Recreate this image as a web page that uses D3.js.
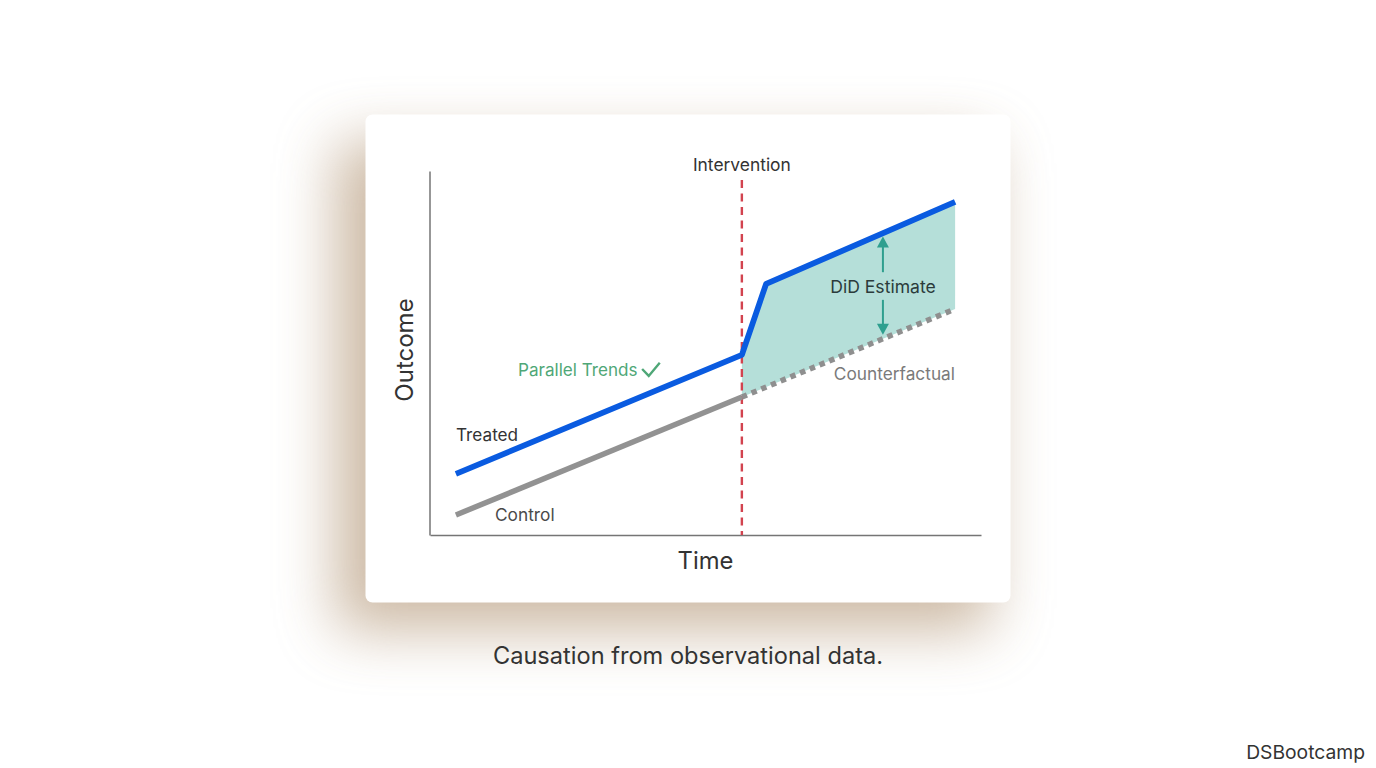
<!DOCTYPE html>
<html><head><meta charset="utf-8">
<script src="https://cdn.jsdelivr.net/npm/d3@7"></script>
<style>html,body{margin:0;padding:0;background:#fff;overflow:hidden}svg{display:block}text{font-family:Inter,Roboto,sans-serif}</style>
</head><body><svg id="c" width="1376" height="768"></svg>
<script>
const timeValues=[4.7,56.6];
const treatedPre=[16.8,49.5];
const treatedPostTimes=[56.6,61,95.3];
const treatedPost=[49.5,69,91.5];
const controlPre=[5.5,37.9];
const counterfactualTimes=[56.6,95.3];
const counterfactual=[37.9,62.1];
const interventionTime=56.6;
const estimateTime=82.2;
const estimateTop=82;
const estimateBottom=55;
const labelGapTop=72.2;const labelGapBottom=64.6;
const checkTimes=[38.5,39.7,41.7];
const checkValues=[45.6,43.7,47.3];

const svg=d3.select('#c');
const x=d3.scaleLinear().domain([0,100]).range([430,981]);
const y=d3.scaleLinear().domain([0,100]).range([535,171]);
const line=d3.line().x(d=>x(d[0])).y(d=>y(d[1]));
const zip=(a,b)=>a.map((v,i)=>[v,b[i]]);
const defs=svg.append('defs');
defs.append('filter').attr('id','blur').attr('x','-30%').attr('y','-30%').attr('width','160%').attr('height','160%')
 .append('feGaussianBlur').attr('stdDeviation',30);
svg.append('rect').attr('x',336).attr('y',142).attr('width',655).attr('height',488).attr('rx',8).attr('fill','#ad8e6c').attr('opacity',.62).attr('filter','url(#blur)');
svg.append('rect').attr('x',365.5).attr('y',114.5).attr('width',645).attr('height',488).attr('rx',7).attr('fill','#fff');
const post=zip(treatedPostTimes,treatedPost);
const cfAt=d3.scaleLinear().domain(counterfactualTimes).range(counterfactual);
svg.append('path').attr('d',d3.area().x(d=>x(d[0])).y1(d=>y(d[1])).y0(d=>y(cfAt(d[0])))(post)).attr('fill','#b5dfd9');
const axX=d3.axisBottom(x).tickValues([]).tickSize(0);
const axY=d3.axisLeft(y).tickValues([]).tickSize(0);
for(const [ax,t] of [[axX,'translate(0,535)'],[axY,'translate(429.5,0)']]){
 const g=svg.append('g').attr('transform',t).call(ax);
 g.select('.domain').attr('stroke','#757575').attr('stroke-width',1.5);
}
svg.append('line').attr('x1',x(interventionTime)).attr('x2',x(interventionTime)).attr('y1',180).attr('y2',535)
 .attr('stroke','#d2434f').attr('stroke-width',2.4).attr('stroke-dasharray','8 5.5');
svg.append('path').attr('d',line(zip(counterfactualTimes,counterfactual))).attr('fill','none').attr('stroke','#8f8f8f').attr('stroke-width',5.5).attr('stroke-dasharray','5.5 5');
svg.append('path').attr('d',line(zip(timeValues,controlPre))).attr('fill','none').attr('stroke','#929292').attr('stroke-width',5.5);
svg.append('path').attr('d',line(zip(timeValues,treatedPre).concat(post.slice(1)))).attr('fill','none').attr('stroke','#0a5be0').attr('stroke-width',5.8).attr('stroke-linejoin','round');
const teal='#2f9f8f';
const ex=x(estimateTime);
svg.append('line').attr('x1',ex).attr('x2',ex).attr('y1',y(estimateTop)+8).attr('y2',y(labelGapTop)).attr('stroke',teal).attr('stroke-width',2);
svg.append('line').attr('x1',ex).attr('x2',ex).attr('y1',y(labelGapBottom)).attr('y2',y(estimateBottom)-8).attr('stroke',teal).attr('stroke-width',2);
const tri=d3.line();
const ty=y(estimateTop),by=y(estimateBottom);
svg.append('path').attr('d',tri([[ex,ty],[ex-6,ty+11],[ex+6,ty+11]])+'Z').attr('fill',teal);
svg.append('path').attr('d',tri([[ex,by],[ex-6,by-11],[ex+6,by-11]])+'Z').attr('fill',teal);
svg.append('path').attr('d',line(zip(checkTimes,checkValues))).attr('fill','none').attr('stroke','#4fa777').attr('stroke-width',2.4);
const label=(t,px,py,size,color,anchor='start')=>svg.append('text').attr('x',px).attr('y',py).attr('font-size',size).attr('fill',color).attr('text-anchor',anchor).text(t);
label('Intervention',x(interventionTime),170.5,17.4,'#333','middle');
label('Treated',456,440.5,17.2,'#333');
label('Control',495,520.5,17.3,'#4a4a4a');
label('Parallel Trends',518,375.5,17.1,'#4fa777');
label('DiD Estimate',883,292.5,17.6,'#2b3b3b','middle');
label('Counterfactual',955,379.5,17.3,'#7a7a7a','end');
label('Time',705.5,569,23.8,'#333','middle');
svg.append('text').attr('transform','translate(413,350) rotate(-90)').attr('text-anchor','middle').attr('font-size',24).attr('fill','#333').text('Outcome');
label('Causation from observational data.',688,664,23.6,'#333','middle');
label('DSBootcamp',1365,759,19.3,'#333','end');
</script></body></html>
